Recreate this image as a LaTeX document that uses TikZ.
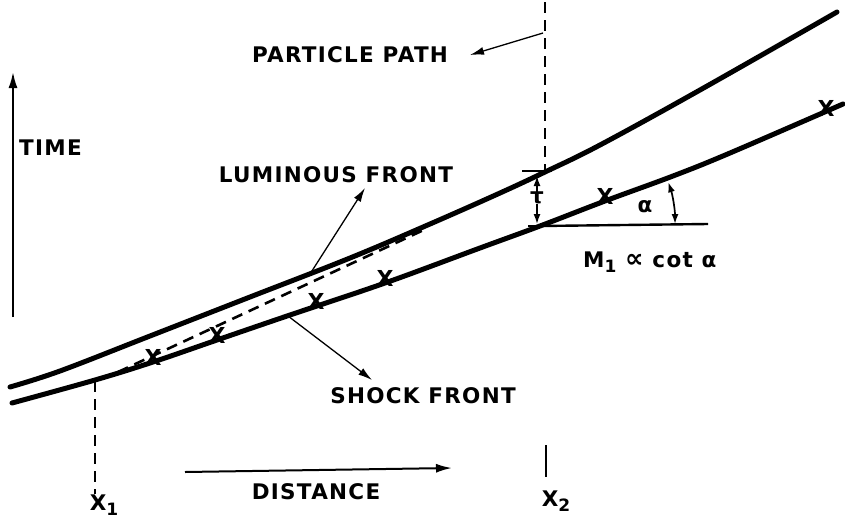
\documentclass[tikz,border=0pt]{standalone}
\usepackage{fontspec}
\setmainfont{DejaVu Sans}[LetterSpace=6]
\usetikzlibrary{arrows.meta}

\tikzset{
  front/.style={line width=5pt, line cap=round},
  guide/.style={line width=2.6pt, dash pattern=on 11pt off 7pt},
  leader/.style={line width=1.3pt, -{Latex[length=14pt,width=8pt]}},
  axis/.style={line width=2pt, -{Latex[length=16pt,width=9pt]}},
  lbl/.style={font=\fontsize{21.5}{24}\selectfont\bfseries, inner sep=1pt},
  xmark/.style={font=\fontsize{22}{24}\selectfont\bfseries, inner sep=0pt, yshift=5pt},
  dimarrow/.style={line width=1.6pt, -{Latex[length=10pt,width=7pt]}}
}
\newcommand{\lowsub}[1]{\raisebox{-5pt}{\fontsize{17}{18}\selectfont #1}}

\begin{document}
\begin{tikzpicture}[x=1pt, y=-1pt]
    \useasboundingbox (0,0) rectangle (845,522);

    % Axes
    \draw[axis] (13,317) -- (13,72);
    \node[lbl, anchor=west] (time) at (18,148) {TIME};
    \draw[axis] (185,472) -- (452,468);
    \node[lbl] (distance) at (316,492) {DISTANCE};

    % Luminous front and shock front
    \draw[front] plot[smooth, tension=0.6] coordinates {(10,387) (60,371) (150,336) (250,297) (350,258) (430,224) (500,193) (545,172) (600,145) (700,90) (837,12)};
    \draw[front] plot[smooth, tension=0.6] coordinates {(12,403) (95,380) (153,362) (217,340) (290,315) (385,283) (480,248) (540,226) (605,201) (673,176) (730,153) (843,104)};

    % Points on the curves
    \coordinate (x1top) at (95,381);
    \coordinate (x2top) at (545,172);
    \coordinate (taulow) at (540,226);
    \coordinate (lumpt) at (310,274);
    \coordinate (shockpt) at (288,316);
    \coordinate (slopeend) at (708,224);

    % Dashed fit line
    \draw[guide] (118,372) -- (428,228);

    % Particle path and x positions
    \draw[guide] (545,2) -- (x2top);
    \draw[guide] (x1top) -- (95,494);
    \draw[line width=1.8pt] (546,445) -- (546,477);
    \node[lbl] (xone) at (104,505) {X\lowsub{1}};
    \node[lbl] (xtwo) at (556,501) {X\lowsub{2}};

    % Labels and leaders
    \node[lbl] (ppath) at (350,55) {PARTICLE PATH};
    \coordinate (ppfoot) at (543,33);
    \draw[leader] (ppfoot) -- (470,55);
    \node[lbl] (lum) at (336,175) {LUMINOUS FRONT};
    \draw[leader] (lumpt) -- (365,188);
    \node[lbl] (shock) at (423,396) {SHOCK FRONT};
    \draw[leader] (shockpt) -- (372,380);

    % Delay tau
    \node[lbl, fill=white, inner sep=0pt] (tau) at (537,198) {τ};
    \draw[dimarrow] (tau.north) -- (537,176);
    \draw[dimarrow] (tau.south) -- (537,224);
    \draw[line width=2pt] (522,171) -- (552,171);
    \draw[line width=2pt] (528,226) -- (552,226);

    % Slope angle
    \draw[line width=2.4pt] (taulow) -- (slopeend);
    \node[lbl] (alpha) at (645,207) {α};
    \draw[line width=1.7pt, {Latex[length=10pt,width=7pt]}-{Latex[length=10pt,width=7pt]}] (taulow) ++(135,-2) arc[start angle=0, end angle=-18, radius=135];
    \node[lbl, anchor=west] (mach) at (582,262) {M\lowsub{1} {\fontsize{26}{26}\selectfont ∝} cot α};

    % Measured shock positions
    \node[xmark] (m1) at (153,362) {X};
    \node[xmark] (m2) at (217,340) {X};
    \node[xmark] (m3) at (316,306) {X};
    \node[xmark] (m4) at (385,283) {X};
    \node[xmark] (m5) at (605,201) {X};
    \node[xmark] (m6) at (826,113) {X};
\end{tikzpicture}
\end{document}
